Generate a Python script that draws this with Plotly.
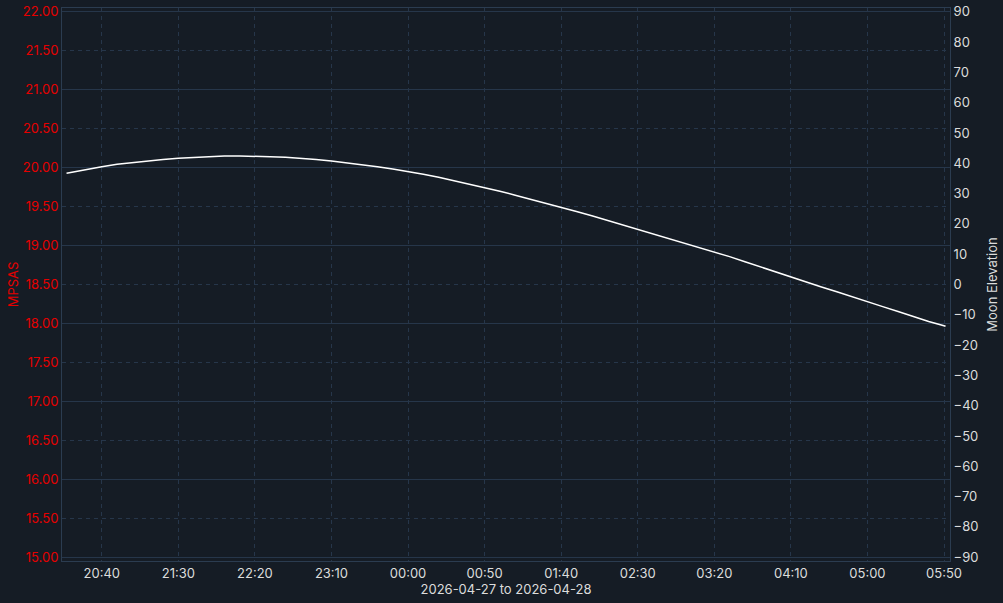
import plotly.graph_objects as go

# Moon elevation samples (time, degrees)
times = [
    "2026-04-27 20:17", "2026-04-27 20:30", "2026-04-27 20:40", "2026-04-27 20:50",
    "2026-04-27 21:00", "2026-04-27 21:10", "2026-04-27 21:20", "2026-04-27 21:30",
    "2026-04-27 21:40", "2026-04-27 21:50", "2026-04-27 22:00", "2026-04-27 22:10",
    "2026-04-27 22:20", "2026-04-27 22:30", "2026-04-27 22:40", "2026-04-27 22:50",
    "2026-04-27 23:00", "2026-04-27 23:10", "2026-04-27 23:20", "2026-04-27 23:30",
    "2026-04-27 23:40", "2026-04-27 23:50", "2026-04-28 00:00", "2026-04-28 00:10",
    "2026-04-28 00:20", "2026-04-28 00:30", "2026-04-28 00:40", "2026-04-28 00:50",
    "2026-04-28 01:00", "2026-04-28 01:10", "2026-04-28 01:20", "2026-04-28 01:30",
    "2026-04-28 01:40", "2026-04-28 01:50", "2026-04-28 02:00", "2026-04-28 02:10",
    "2026-04-28 02:20", "2026-04-28 02:30", "2026-04-28 02:40", "2026-04-28 02:50",
    "2026-04-28 03:00", "2026-04-28 03:10", "2026-04-28 03:20", "2026-04-28 03:30",
    "2026-04-28 03:40", "2026-04-28 03:50", "2026-04-28 04:00", "2026-04-28 04:10",
    "2026-04-28 04:20", "2026-04-28 04:30", "2026-04-28 04:40", "2026-04-28 04:50",
    "2026-04-28 05:00", "2026-04-28 05:10", "2026-04-28 05:20", "2026-04-28 05:30",
    "2026-04-28 05:40", "2026-04-28 05:50", "2026-04-28 05:51",
]
moon_elevation = [
    36.7, 38.0, 38.9, 39.7,
    40.3, 40.9, 41.3, 41.7,
    42.0, 42.2, 42.4, 42.4,
    42.4, 42.2, 42.0, 41.7,
    41.3, 40.8, 40.2, 39.6,
    38.9, 38.1, 37.3, 36.4,
    35.4, 34.3, 33.2, 32.0,
    30.8, 29.5, 28.2, 26.9,
    25.5, 24.1, 22.7, 21.2,
    19.7, 18.2, 16.7, 15.2,
    13.8, 12.3, 10.8, 9.2,
    7.5, 5.8, 4.1, 2.4,
    0.8, -0.8, -2.4, -4.1,
    -5.7, -7.3, -8.9, -10.6,
    -12.2, -13.6, -13.8,
]

# MPSAS series (no readings in this window)
mpsas_times = []
mpsas_values = []

x_title = "2026-04-27 to 2026-04-28"
left_title = "MPSAS"
right_title = "Moon Elevation"

BG = "#151c25"
GRID = "#26364a"
AXLINE = "#2b3c50"
RED = "#e50000"
LIGHT = "#dcdcdc"
FONT = "Inter, Roboto, sans-serif"
DASH = "4px,4px"

fig = go.Figure()
fig.add_trace(go.Scatter(x=mpsas_times, y=mpsas_values, mode="lines", yaxis="y",
                         line=dict(color=RED, width=1.5), showlegend=False, name=left_title))
fig.add_trace(go.Scatter(x=[], y=[], yaxis="y3", showlegend=False, hoverinfo="skip"))
fig.add_trace(go.Scatter(x=times, y=moon_elevation, mode="lines", yaxis="y2",
                         line=dict(color="#ffffff", width=1.5), showlegend=False,
                         name=right_title))

left_range = [14.95, 22.05]
right_range = [-91.29, 91.29]

fig.update_layout(
    width=1003, height=603,
    margin=dict(l=62, r=53, t=8, b=42, autoexpand=False),
    paper_bgcolor=BG, plot_bgcolor=BG,
    font=dict(family=FONT, size=13, color=LIGHT),
    xaxis=dict(
        type="date",
        range=["2026-04-27 20:14:02", "2026-04-28 05:53:55"],
        tick0="2026-04-27 20:40", dtick=50 * 60 * 1000, tickformat="%H:%M",
        showgrid=True, gridcolor=GRID, griddash=DASH, gridwidth=1,
        showline=True, linecolor=AXLINE, linewidth=1, mirror=True,
        ticks="", tickfont=dict(color=LIGHT, size=13),
        title=dict(text=x_title, font=dict(color=LIGHT, size=13), standoff=4),
        zeroline=False, automargin=False,
    ),
    yaxis=dict(
        range=left_range, tick0=15, dtick=0.5, tickformat=".2f",
        showgrid=True, gridcolor=GRID, griddash=DASH, gridwidth=1,
        showline=True, linecolor=AXLINE, linewidth=1, mirror=True,
        ticks="", tickfont=dict(color=RED, size=13),
        title=dict(text=left_title, font=dict(color=RED, size=13), standoff=1),
        zeroline=False, automargin=False,
    ),
    yaxis3=dict(
        range=left_range, overlaying="y", side="left", tick0=15, dtick=1,
        showgrid=True, gridcolor=GRID, griddash="solid", gridwidth=1,
        showticklabels=False, showline=False, ticks="", zeroline=False,
    ),
    yaxis2=dict(
        range=right_range, overlaying="y", side="right", tick0=-90, dtick=10,
        showgrid=False, showline=True, linecolor=AXLINE, linewidth=1,
        ticks="", tickfont=dict(color=LIGHT, size=13),
        title=dict(text=right_title, font=dict(color=LIGHT, size=13), standoff=10),
        zeroline=False, automargin=False,
    ),
)

fig.write_html("out.html", config={"displayModeBar": False},
               post_script="document.body.style.margin='0';")
